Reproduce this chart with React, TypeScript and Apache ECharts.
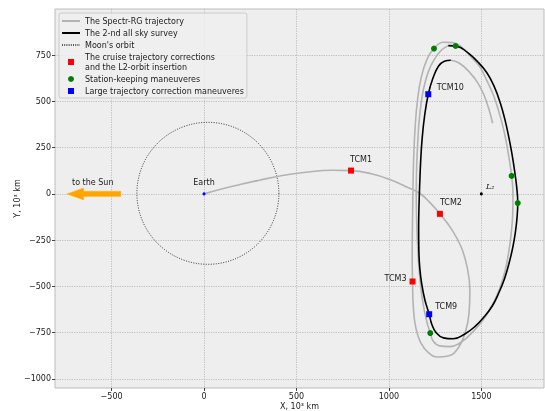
import React, { useEffect, useRef } from 'react';
import * as echarts from 'echarts';

// ---------- data (units: 10^3 km) ----------
const xTicks = [-500, 0, 500, 1000, 1500];
const yTicks = [-1000, -750, -500, -250, 0, 250, 500, 750];
const xRange = [-806, 1839];
const yRange = [-1050, 1000];

// Spectr-RG trajectory: from Earth up to the start of the 2nd survey
const trajectoryBefore: [number, number][] = [
  [0, 0], [100, 28], [200, 52], [300, 74], [411, 97], [550, 117], [697, 128], [795, 126],
  [900, 110], [1005, 78], [1090, 40], [1168, 2], [1225, -50], [1276, -108],
  [1335, -185], [1390, -285], [1424, -400], [1438, -520], [1434, -640], [1413, -750],
  [1372, -838], [1320, -877], [1265, -882], [1215, -860], [1172, -805], [1145, -720],
  [1132, -610], [1128, -474], [1126, -340], [1127, -200], [1129, -60], [1131, 80],
  [1135, 220], [1142, 360], [1154, 500], [1175, 630], [1207, 730], [1244, 786],
  [1294, 820], [1345, 818], [1395, 793], [1440, 745], [1490, 690], [1528, 617],
  [1565, 535], [1592, 454], [1618, 360], [1636, 274], [1652, 180], [1664, 97],
  [1671, 0], [1670, -100], [1662, -210], [1650, -303], [1630, -410], [1600, -510],
  [1560, -600], [1510, -681], [1455, -745], [1394, -800], [1330, -826], [1275, -822],
  [1240, -797], [1224, -753], [1205, -690], [1186, -600], [1172, -500], [1162, -390],
  [1155, -270], [1150, -140], [1148, 0], [1150, 140], [1156, 280], [1166, 420],
  [1186, 562], [1213, 660], [1247, 730], [1285, 778], [1321, 802],
];

// the 2-nd all sky survey
const surveyPath: [number, number][] = [
  [1321, 802], [1370, 798], [1425, 765], [1480, 715], [1530, 655], [1570, 580],
  [1603, 490], [1628, 400], [1648, 310], [1665, 220], [1680, 125], [1692, 30],
  [1697, -50], [1693, -130], [1684, -210], [1670, -290], [1650, -375], [1625, -460],
  [1595, -535], [1560, -605], [1515, -665], [1465, -718], [1411, -758], [1348, -784],
  [1295, -779], [1255, -750], [1232, -705], [1218, -651], [1195, -575], [1178, -490],
  [1167, -400], [1162, -300], [1161, -180], [1163, -60], [1167, 60], [1172, 180],
  [1180, 300], [1193, 420], [1213, 539], [1238, 625], [1268, 690], [1300, 718], [1335, 723],
];

// trajectory after the survey segment
const trajectoryAfter: [number, number][] = [
  [1335, 723], [1380, 708], [1438, 656], [1480, 602], [1512, 540], [1540, 462], [1561, 382],
];

const moonOrbit = { center: [21, 3], radius: 384 };
const earthPos: [number, number] = [0, 0];
const l2Pos: [number, number] = [1500, 0];
const sunArrow = { from: [-450, 0], to: [-743, 0] };

const cruiseNames = ['TCM1', 'TCM2', 'TCM3'];
const cruisePoints: [number, number][] = [[795, 126], [1276, -108], [1128, -474]];
const stationPoints: [number, number][] = [[1244, 786], [1361, 800], [1664, 97], [1697, -50], [1224, -753]];
const largeNames = ['TCM10', 'TCM9'];
const largePoints: [number, number][] = [[1213, 539], [1218, -651]];

const names = {
  traj: 'The Spectr-RG trajectory',
  survey: 'The 2-nd all sky survey',
  moon: "Moon's orbit",
  cruise: 'The cruise trajectory corrections\nand the L2-orbit insertion',
  station: 'Station-keeping maneuveres',
  large: 'Large trajectory correction maneuveres',
};

// ---------- styling ----------
const FONT = 'DejaVu Sans';
const FS = 8;
const TXT = '#1a1a1a';
const SQUARE = 'path://M0,0L10,0L10,10L0,10Z';
const SMOOTH = 0.45;
const labelOffsets: Record<string, [number, number]> = {
  TCM1: [10, -11],
  TCM2: [11, -11],
  TCM3: [-17, -3],
  TCM10: [22, -7],
  TCM9: [17, -8],
};
const minus = (v: number) => String(v).replace('-', '\u2212');

export default function App() {
  const ref = useRef<HTMLDivElement>(null);
  useEffect(() => {
    if (!ref.current) return;
    const chart = echarts.init(ref.current, undefined, { renderer: 'svg' });
    const tcmLabel = (n: string) => ({
      show: true,
      formatter: '{b}',
      position: 'inside',
      offset: labelOffsets[n],
      color: TXT,
      fontSize: FS,
      fontFamily: FONT,
    });
    const option: any = {
      animation: false,
      textStyle: { fontFamily: FONT },
      grid: {
        left: 55, right: 1, top: 9, bottom: 23,
        outerBoundsMode: 'none', containLabel: false,
        show: true, backgroundColor: '#eeeeee', borderColor: '#bcbcbc', borderWidth: 1,
      },
      legend: {
        orient: 'vertical', left: 59, top: 13,
        padding: [3, 3, 2, 2],
        itemWidth: 18, itemHeight: 6, itemGap: 2,
        backgroundColor: 'rgba(238,238,238,0.85)', borderColor: '#cccccc', borderWidth: 1, borderRadius: 2,
        selectedMode: false,
        textStyle: { fontSize: FS, lineHeight: 10, fontFamily: FONT, color: TXT },
        data: [
          { name: names.traj, itemStyle: { opacity: 0 } },
          { name: names.survey, itemStyle: { opacity: 0 } },
          { name: names.moon, itemStyle: { opacity: 0 } },
          { name: names.cruise, icon: SQUARE },
          { name: names.station, icon: 'circle' },
          { name: names.large, icon: SQUARE },
        ],
      },
      xAxis: {
        type: 'value', min: xRange[0], max: xRange[1],
        axisLine: { show: false, onZero: false },
        axisTick: { show: true, customValues: xTicks, length: 3, lineStyle: { color: '#444' } },
        axisLabel: { customValues: xTicks, formatter: minus, fontSize: FS, color: TXT, margin: 4, fontFamily: FONT },
        splitLine: { show: true, lineStyle: { color: '#b2b2b2', width: 0.8, type: [1.2, 1.2] } },
        name: 'X, 10³ km', nameLocation: 'middle', nameGap: 14, nameMoveOverlap: false,
        nameTextStyle: { fontSize: FS, color: TXT, fontFamily: FONT },
      },
      yAxis: {
        type: 'value', min: yRange[0], max: yRange[1],
        axisLine: { show: false, onZero: false },
        axisTick: { show: true, customValues: yTicks, length: 3, lineStyle: { color: '#444' } },
        axisLabel: { customValues: yTicks, formatter: minus, fontSize: FS, color: TXT, margin: 4, fontFamily: FONT },
        splitLine: { show: true, lineStyle: { color: '#b2b2b2', width: 0.8, type: [1.2, 1.2] } },
        name: 'Y, 10³ km', nameLocation: 'middle', nameGap: 34, nameMoveOverlap: false,
        nameTextStyle: { fontSize: FS, color: TXT, fontFamily: FONT },
      },
      series: [
        {
          type: 'line', name: names.traj, data: trajectoryBefore, smooth: SMOOTH, symbol: 'none',
          lineStyle: { color: '#b3b3b3', width: 1.6 }, itemStyle: { color: '#b3b3b3' }, z: 2,
        },
        {
          type: 'line', name: names.traj, data: trajectoryAfter, smooth: SMOOTH, symbol: 'none',
          lineStyle: { color: '#b3b3b3', width: 1.6 }, itemStyle: { color: '#b3b3b3' }, z: 2,
        },
        {
          type: 'line', name: names.survey, data: surveyPath, smooth: SMOOTH, symbol: 'none',
          lineStyle: { color: '#000000', width: 1.6 }, itemStyle: { color: '#000000' }, z: 3,
        },
        {
          type: 'line', name: names.moon, data: [], symbol: 'none',
          lineStyle: { color: '#555555', width: 0.8, type: [1, 1.2] }, itemStyle: { color: '#555555' },
        },
        {
          type: 'custom', name: 'moon-circle', coordinateSystem: 'cartesian2d',
          data: [[moonOrbit.center[0], moonOrbit.center[1], moonOrbit.radius]],
          encode: { x: 0, y: 1 },
          renderItem: (_p: any, api: any) => {
            const c = api.coord([api.value(0), api.value(1)]);
            const r = api.size([api.value(2), 0])[0];
            return {
              type: 'circle',
              shape: { cx: c[0], cy: c[1], r },
              style: { fill: 'none', stroke: '#000', lineWidth: 0.8, lineDash: [1, 1.5] },
            };
          },
          z: 2, silent: true,
        },
        {
          type: 'custom', name: 'sun-arrow', coordinateSystem: 'cartesian2d',
          data: [[sunArrow.from[0], sunArrow.from[1], sunArrow.to[0], sunArrow.to[1]]],
          encode: { x: [0, 2], y: [1, 3] },
          renderItem: (_p: any, api: any) => {
            const a = api.coord([api.value(0), api.value(1)]);
            const b = api.coord([api.value(2), api.value(3)]);
            const sw = 2.6, hw = 6, hl = 17;
            const dir = b[0] < a[0] ? -1 : 1;
            const hb = b[0] - dir * hl;
            return {
              type: 'polygon',
              shape: {
                points: [
                  [a[0], a[1] - sw], [hb, a[1] - sw], [hb, a[1] - hw], [b[0], b[1]],
                  [hb, a[1] + hw], [hb, a[1] + sw], [a[0], a[1] + sw],
                ],
              },
              style: { fill: '#ffa500', stroke: '#ffb733', lineWidth: 0.5 },
            };
          },
          z: 4, silent: true,
        },
        {
          type: 'scatter', name: 'earth', data: [{ name: 'Earth', value: earthPos }],
          symbol: 'circle', symbolSize: 3, itemStyle: { color: '#0000ff', opacity: 1 },
          label: { show: true, formatter: '{b}', position: 'inside', offset: [0, -11], color: TXT, fontSize: FS, fontFamily: FONT },
          z: 5,
        },
        {
          type: 'scatter', name: 'sun-label',
          data: [{ name: 'to the Sun', value: [(sunArrow.from[0] + sunArrow.to[0]) / 2, sunArrow.from[1]] }],
          symbolSize: 0, itemStyle: { opacity: 1 },
          label: { show: true, formatter: '{b}', position: 'inside', offset: [-1, -11], color: TXT, fontSize: FS, fontFamily: FONT },
          z: 5, silent: true,
        },
        {
          type: 'scatter', name: 'l2', data: [{ name: 'L₂', value: l2Pos }],
          symbol: 'circle', symbolSize: 3, itemStyle: { color: '#000000', opacity: 1 },
          label: {
            show: true, formatter: '{b}', position: 'inside', offset: [9, -7], color: TXT,
            fontSize: 8, fontFamily: 'DejaVu Serif', fontStyle: 'italic',
          },
          z: 5,
        },
        {
          type: 'scatter', name: names.cruise,
          data: cruisePoints.map((p, i) => ({ name: cruiseNames[i], value: p, label: tcmLabel(cruiseNames[i]) })),
          symbol: 'rect', symbolSize: 6, itemStyle: { color: '#ff0000', opacity: 1 }, z: 6,
        },
        {
          type: 'scatter', name: names.station, data: stationPoints,
          symbol: 'circle', symbolSize: 6, itemStyle: { color: '#008000', opacity: 1 }, z: 6,
        },
        {
          type: 'scatter', name: names.large,
          data: largePoints.map((p, i) => ({ name: largeNames[i], value: p, label: tcmLabel(largeNames[i]) })),
          symbol: 'rect', symbolSize: 6, itemStyle: { color: '#0000ff', opacity: 1 }, z: 6,
        },
      ],
    };
    chart.setOption(option);
    return () => chart.dispose();
  }, []);
  return <div ref={ref} style={{ position: 'fixed', left: 0, top: 0, width: 545, height: 411 }} />;
}
